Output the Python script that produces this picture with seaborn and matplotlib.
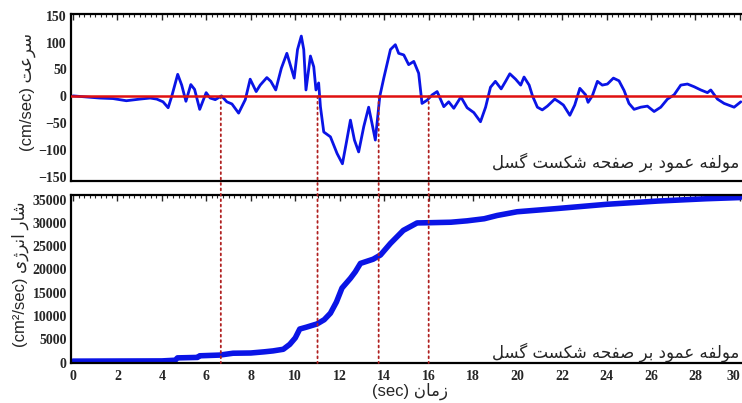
import matplotlib
matplotlib.use("Agg")
import matplotlib.pyplot as plt
from matplotlib.patches import ConnectionPatch
from matplotlib.ticker import MultipleLocator
import seaborn as sns
import pandas as pd

# ---- data -------------------------------------------------------------
t_vel = [0.0, 0.6, 1.2, 1.8, 2.4, 3.0, 3.47, 3.77, 4.05, 4.28, 4.44, 4.71, 4.89,
         5.08, 5.3, 5.47, 5.7, 5.99, 6.17, 6.4, 6.68, 6.92, 7.15, 7.45, 7.75,
         7.97, 8.24, 8.42, 8.72, 8.9, 9.12, 9.37, 9.62, 9.8, 9.95, 10.1, 10.27,
         10.38, 10.48, 10.68, 10.83, 10.93, 11.05, 11.13, 11.28, 11.58, 11.88,
         12.12, 12.3, 12.48, 12.66, 12.85, 13.08, 13.3, 13.45, 13.6, 13.8, 13.98,
         14.28, 14.5, 14.65, 14.88, 15.1, 15.33, 15.55, 15.7, 15.93, 16.16, 16.38,
         16.68, 16.9, 17.13, 17.45, 17.73, 18.03, 18.33, 18.56, 18.78, 19.0,
         19.26, 19.46, 19.65, 19.91, 20.14, 20.29, 20.52, 20.67, 20.89, 21.11,
         21.34, 21.67, 21.86, 22.06, 22.35, 22.57, 22.8, 23.06, 23.17, 23.36,
         23.59, 23.81, 24.04, 24.31, 24.56, 24.79, 25.01, 25.24, 25.54, 25.84,
         26.14, 26.44, 26.74, 27.04, 27.34, 27.64, 27.94, 28.24, 28.54, 28.69,
         28.99, 29.29, 29.74, 30.04]
velocity = [1, -1, -3, -4, -8, -5, -3, -5, -10, -21, 0, 41, 21,
            -9, 22, 13, -24, 7, -3, -6, 1, -10, -14, -31, -6,
            32, 9, 21, 35, 28, 12, 52, 80, 55, 34, 87, 112,
            87, 12, 75, 55, 12, 25, -19, -66, -75, -106,
            -125, -85, -44, -81, -103, -56, -20, -50, -81, 0, 34,
            87, 96, 80, 77, 59, 65, 43, -13, -7, 3, 9,
            -19, -10, -22, -1, -21, -30, -47, -20, 17, 28,
            14, 28, 42, 32, 21, 36, 21, 1, -20, -25,
            -18, -5, -10, -16, -35, -16, 15, 3, -11, 1,
            28, 21, 23, 34, 29, 11, -13, -24, -20, -18,
            -28, -20, -5, 3, 21, 23, 18, 12, 7, 12,
            -5, -13, -20, -10]

t_energy = [0.0, 4.0, 4.6, 4.7, 5.6, 5.7, 6.6, 7.2, 8.0, 8.6, 9.0, 9.46, 9.75,
            10.0, 10.2, 10.5, 10.98, 11.3, 11.58, 11.85, 12.1, 12.48, 12.7,
            12.93, 13.5, 13.83, 14.28, 14.86, 15.48, 16.08, 17.0, 17.73, 18.5,
            19.08, 19.98, 21.8, 24.0, 26.3, 28.5, 30.0]
energy = [300, 350, 500, 1000, 1100, 1450, 1600, 2000, 2050, 2300, 2500, 2850, 3900,
          5300, 7200, 7600, 8300, 9200, 10600, 13000, 16000, 18100, 19500,
          21300, 22200, 23100, 25600, 28400, 30000, 30050, 30150, 30450, 30900,
          31600, 32400, 33100, 34000, 34700, 35200, 35450]

event_times = [6.65, 11.0, 13.75, 16.0]

x_ticks = list(range(0, 31, 2))
vel_ticks = [-150, -100, -50, 0, 50, 100, 150]
energy_ticks = [0, 5000, 10000, 15000, 20000, 25000, 30000, 35000]

# ---- Persian text shaping (presentation forms, visual order) -----------
FORMS = {
    "ا": ("\uFE8D", "\uFE8E"), "د": ("\uFEA9", "\uFEAA"), "ر": ("\uFEAD", "\uFEAE"),
    "ز": ("\uFEAF", "\uFEB0"), "ژ": ("\uFB8A", "\uFB8B"), "و": ("\uFEED", "\uFEEE"),
    "ب": ("\uFE8F", "\uFE90", "\uFE91", "\uFE92"),
    "ت": ("\uFE95", "\uFE96", "\uFE97", "\uFE98"),
    "ح": ("\uFEA1", "\uFEA2", "\uFEA3", "\uFEA4"),
    "س": ("\uFEB1", "\uFEB2", "\uFEB3", "\uFEB4"),
    "ش": ("\uFEB5", "\uFEB6", "\uFEB7", "\uFEB8"),
    "ص": ("\uFEB9", "\uFEBA", "\uFEBB", "\uFEBC"),
    "ع": ("\uFEC9", "\uFECA", "\uFECB", "\uFECC"),
    "ف": ("\uFED1", "\uFED2", "\uFED3", "\uFED4"),
    "ل": ("\uFEDD", "\uFEDE", "\uFEDF", "\uFEE0"),
    "م": ("\uFEE1", "\uFEE2", "\uFEE3", "\uFEE4"),
    "ن": ("\uFEE5", "\uFEE6", "\uFEE7", "\uFEE8"),
    "ه": ("\uFEE9", "\uFEEA", "\uFEEB", "\uFEEC"),
    "ک": ("\uFB8E", "\uFB8F", "\uFB90", "\uFB91"),
    "گ": ("\uFB92", "\uFB93", "\uFB94", "\uFB95"),
    "ی": ("\uFBFC", "\uFBFD", "\uFBFE", "\uFBFF"),
}


def fa(text):
    out = []
    for i, ch in enumerate(text):
        if ch not in FORMS:
            out.append(ch)
            continue
        prev = text[i - 1] if i > 0 else ""
        nxt = text[i + 1] if i + 1 < len(text) else ""
        joins_prev = prev in FORMS and len(FORMS[prev]) == 4
        joins_next = len(FORMS[ch]) == 4 and nxt in FORMS
        f = FORMS[ch]
        if joins_prev and joins_next:
            out.append(f[3])
        elif joins_prev:
            out.append(f[1])
        elif joins_next:
            out.append(f[2])
        else:
            out.append(f[0])
    return "".join(reversed(out))


caption = fa("مولفه عمود بر صفحه شکست گسل")

# ---- figure -------------------------------------------------------------
sns.set_style("white")
plt.rcParams["font.family"] = ["Liberation Sans", "DejaVu Sans"]

W, H = 742, 403
fig = plt.figure(figsize=(W / 100, H / 100), dpi=100)
left, right = 71, 745
ax1 = fig.add_axes([left / W, 1 - 181 / H, (right - left) / W, 167 / H])
ax2 = fig.add_axes([left / W, 1 - 363 / H, (right - left) / W, 168 / H])

vel_df = pd.DataFrame({"t": t_vel, "v": velocity})
en_df = pd.DataFrame({"t": t_energy, "e": energy})

sns.lineplot(data=vel_df, x="t", y="v", ax=ax1, color="#0a14e6", linewidth=2.0,
             estimator=None, sort=False)
ax1.axhline(0, color="#e01010", linewidth=1.8, zorder=3)
sns.lineplot(data=en_df, x="t", y="e", ax=ax2, color="#0a14e6", linewidth=4.0,
             estimator=None, sort=False)

xmin = -2 / 22.23
xmax = xmin + (right - left) / 22.23
for ax in (ax1, ax2):
    ax.set_xlim(xmin, xmax)
    ax.set_xticks(x_ticks)
    ax.xaxis.set_minor_locator(MultipleLocator(0.25))
    ax.tick_params(axis="both", which="major", direction="in", length=4, width=1,
                   top=True, right=False, labelsize=10, pad=3)
    ax.tick_params(axis="both", which="minor", direction="in", length=2.5,
                   width=0.8, top=True)
    ax.set_xlabel("")
    ax.set_ylabel("")
    for s in ax.spines.values():
        s.set_linewidth(1.6)
        s.set_color("black")

ax1.set_ylim(-157, 153)
ax1.set_yticks(vel_ticks)
ax1.yaxis.set_minor_locator(MultipleLocator(10))
ax1.tick_params(axis="x", labelbottom=False)

ax2.set_ylim(-100, 36000)
ax2.set_yticks(energy_ticks)
ax2.yaxis.set_minor_locator(MultipleLocator(1000))
ax2.tick_params(axis="x", pad=5)
for lab in ax1.get_yticklabels() + ax2.get_xticklabels() + ax2.get_yticklabels():
    lab.set_fontfamily("Liberation Serif")
    lab.set_fontweight("bold")
# keep the last time label inside the figure edge
ax2.get_xticklabels()[-1].set_horizontalalignment("right")

# captions inside each panel
cap_x = (739 - left) / (right - left)
ax1.text(cap_x, 0.11, caption, transform=ax1.transAxes, ha="right", va="center",
         fontsize=12, family=["DejaVu Sans"])
ax2.text(cap_x, 0.065, caption, transform=ax2.transAxes, ha="right", va="center",
         fontsize=12, family=["DejaVu Sans"])

# axis titles
fig.text(28 / W, 1 - 92 / H, "(cm/sec) " + fa("سرعت"), rotation=90,
         ha="center", va="center", fontsize=12)
fig.text(20 / W, 1 - 274 / H, "(cm²/sec) " + fa("شار انرژی"), rotation=90,
         ha="center", va="center", fontsize=12)
fig.text(410 / W, 1 - 391 / H, "(sec) " + fa("زمان"), ha="center", va="center",
         fontsize=12)

# dotted markers at the zero crossings, running through both panels
for t in event_times:
    con = ConnectionPatch(xyA=(t, 0), coordsA=ax1.transData,
                          xyB=(t, -100), coordsB=ax2.transData,
                          color="#b02020", linewidth=1.3, linestyle=(0, (1, 2)))
    fig.add_artist(con)

fig.savefig("out.png", dpi=100)
